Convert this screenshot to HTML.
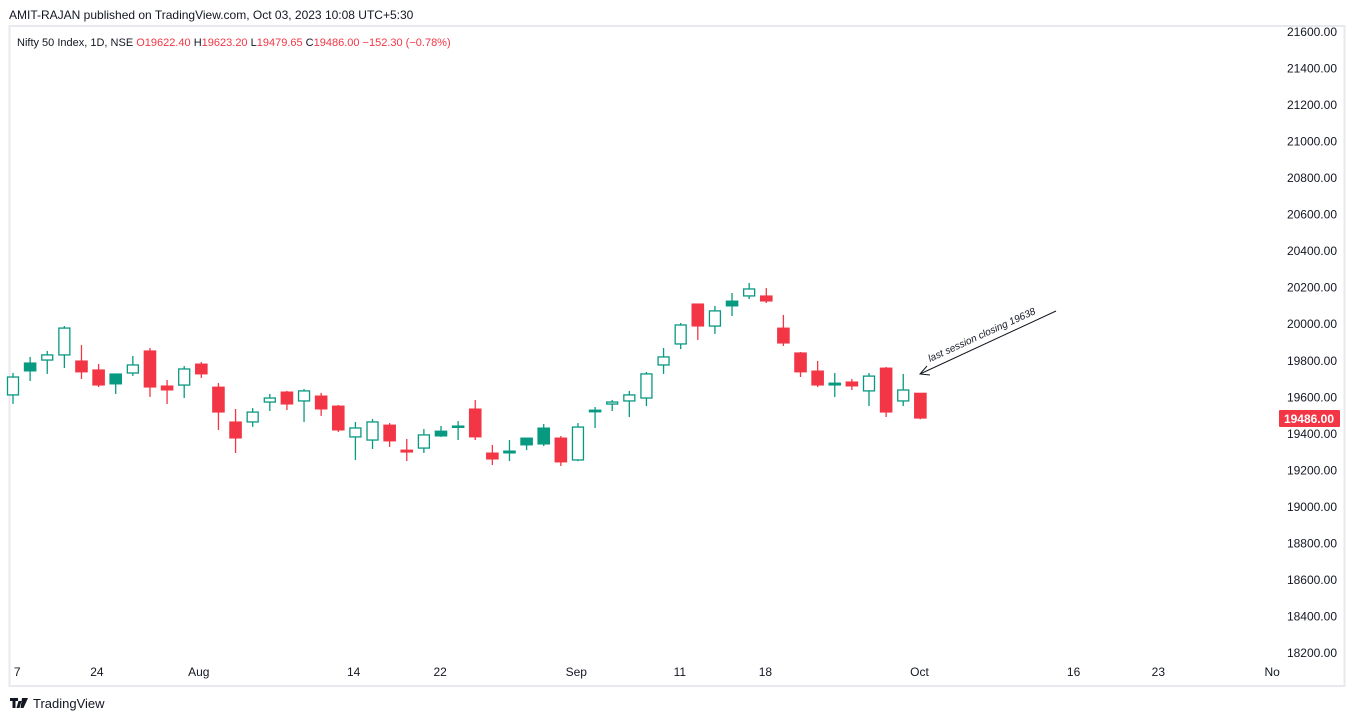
<!DOCTYPE html>
<html><head><meta charset="utf-8"><style>
body{margin:0;background:#fff;font-family:"Liberation Sans",sans-serif;}
svg{display:block}
</style></head><body>
<svg width="1355" height="721" xmlns="http://www.w3.org/2000/svg" font-family="Liberation Sans, sans-serif">
<text x="9" y="19" font-size="12" fill="#131722">AMIT-RAJAN published on TradingView.com, Oct 03, 2023 10:08 UTC+5:30</text>
<rect x="9.5" y="26" width="1335" height="660" fill="none" stroke="#e8e9ee" stroke-width="2"/>
<g id="legend" font-size="11">
<text x="17" y="46" fill="#131722">Nifty 50 Index, 1D, NSE <tspan fill="#f23645">O</tspan><tspan fill="#f23645">19622.40 </tspan><tspan fill="#131722">H</tspan><tspan fill="#f23645">19623.20 </tspan><tspan fill="#131722">L</tspan><tspan fill="#f23645">19479.65 </tspan><tspan fill="#131722">C</tspan><tspan fill="#f23645">19486.00  −152.30 (−0.78%)</tspan></text>
</g>
<g id="yaxis"></g>
<g id="xaxis"></g>
<g id="candles"></g>
<g>
<line x1="1056" y1="311" x2="920" y2="374" stroke="#131722" stroke-width="1"/>
<path d="M927 366 L920 374 L930 375" fill="none" stroke="#131722" stroke-width="1"/>
<text x="0" y="0" font-size="10" font-style="italic" fill="#131722" transform="translate(930,362) rotate(-24.5)">last session closing 19638</text>
</g>
<g>
<rect x="1279" y="410" width="61" height="17" rx="1" fill="#f23645"/>
<text x="1334" y="423" font-size="12" font-weight="bold" fill="#fff" text-anchor="end">19486.00</text>
</g>
<g>
<path d="M10 698h8v3h-2.5v7h-3v-7H10z M18.5 701h3l-2 7h-3z" fill="#131722"/>
<path d="M22 698h6l-4.5 10h-3z" fill="#131722"/>
<text x="33" y="708" font-size="13" fill="#131722">TradingView</text>
</g>
<script>
const opens=[19613,19744,19804,19832,19799,19750,19673,19733,19854,19662,19667,19782,19656,19465,19465,19574,19629,19580,19607,19552,19383,19366,19448,19311,19322,19388,19437,19536,19295,19295,19339,19344,19377,19257,19520,19563,19580,19596,19777,19892,20111,19990,20100,20155,20155,19979,19843,19744,19667,19684,19635,19760,19580,19622.4];
const highs=[19733,19821,19854,19990,19886,19782,19728,19826,19870,19695,19771,19793,19678,19536,19541,19618,19635,19645,19624,19558,19465,19481,19459,19372,19426,19443,19470,19585,19339,19366,19377,19454,19388,19459,19547,19585,19635,19739,19870,20007,20111,20100,20171,20226,20198,20051,19848,19799,19733,19700,19733,19766,19728,19623.2];
const lows=[19564,19689,19728,19760,19700,19656,19618,19717,19602,19563,19596,19706,19421,19295,19438,19525,19530,19465,19498,19410,19257,19317,19328,19251,19295,19383,19366,19366,19229,19251,19311,19333,19224,19250,19432,19525,19492,19552,19728,19864,19914,19947,20045,20138,20116,19881,19711,19656,19602,19640,19552,19492,19552,19479.65];
const closes=[19711,19788,19832,19979,19739,19667,19728,19777,19656,19640,19755,19728,19519,19377,19519,19596,19563,19635,19536,19421,19432,19465,19361,19300,19394,19415,19443,19383,19262,19306,19377,19432,19246,19437,19530,19574,19613,19728,19821,19996,19990,20073,20127,20193,20127,19897,19739,19667,19678,19662,19716,19519,19640,19486];
const filledUp=[1,6,25,26,29,30,31,34,42,48];
const priceTicks=[21600,21400,21200,21000,20800,20600,20400,20200,20000,19800,19600,19400,19200,19000,18800,18600,18400,18200];
const dateLabels=["7","24","Aug","14","22","Sep","11","18","Oct","16","23","No"];
const dateIdx=[0.05,4.9,10.85,19.9,24.95,32.9,38.95,43.95,52.95,61.95,66.9,73.55];
const NS="http://www.w3.org/2000/svg";
function y(p){return 32+(21600-p)*(621/3400);}
function x(i){return 13+i*17.12;}
function mk(t,a,parent){const e=document.createElementNS(NS,t);for(const k in a)e.setAttribute(k,a[k]);parent.appendChild(e);return e;}
const ya=document.getElementById('yaxis');
priceTicks.forEach(p=>{const t=mk('text',{x:1337,y:y(p)+4,'font-size':12,fill:'#131722','text-anchor':'end'},ya);


t.textContent=p.toFixed(2);});
const xa=document.getElementById('xaxis');
dateLabels.forEach((d,k)=>{const t=mk('text',{x:x(dateIdx[k]),y:676,'font-size':12,fill:'#131722','text-anchor':k==0?'start':'middle'},xa);


t.textContent=d;});
const cg=document.getElementById('candles');
opens.forEach((o,i)=>{const c=closes[i],up=c>=o,col=up?'#089981':'#f23645',cx=x(i);
const g=mk('g',{},cg);


const top=y(Math.max(o,c)),bot=y(Math.min(o,c));
mk('line',{x1:cx,x2:cx,y1:y(highs[i]),y2:top,stroke:col,'stroke-width':1.3},g);
mk('line',{x1:cx,x2:cx,y1:bot,y2:y(lows[i]),stroke:col,'stroke-width':1.3},g);
const h=Math.max(bot-top,1.5);
if(up&&filledUp.indexOf(i)<0){mk('rect',{x:cx-5.5,y:top,width:11,height:h,fill:'#fff',stroke:col,'stroke-width':1.3},g);}
else{mk('rect',{x:cx-6.3,y:top-0.5,width:12.6,height:h+1,fill:col},g);}
});
</script>
</svg>
</body></html>
